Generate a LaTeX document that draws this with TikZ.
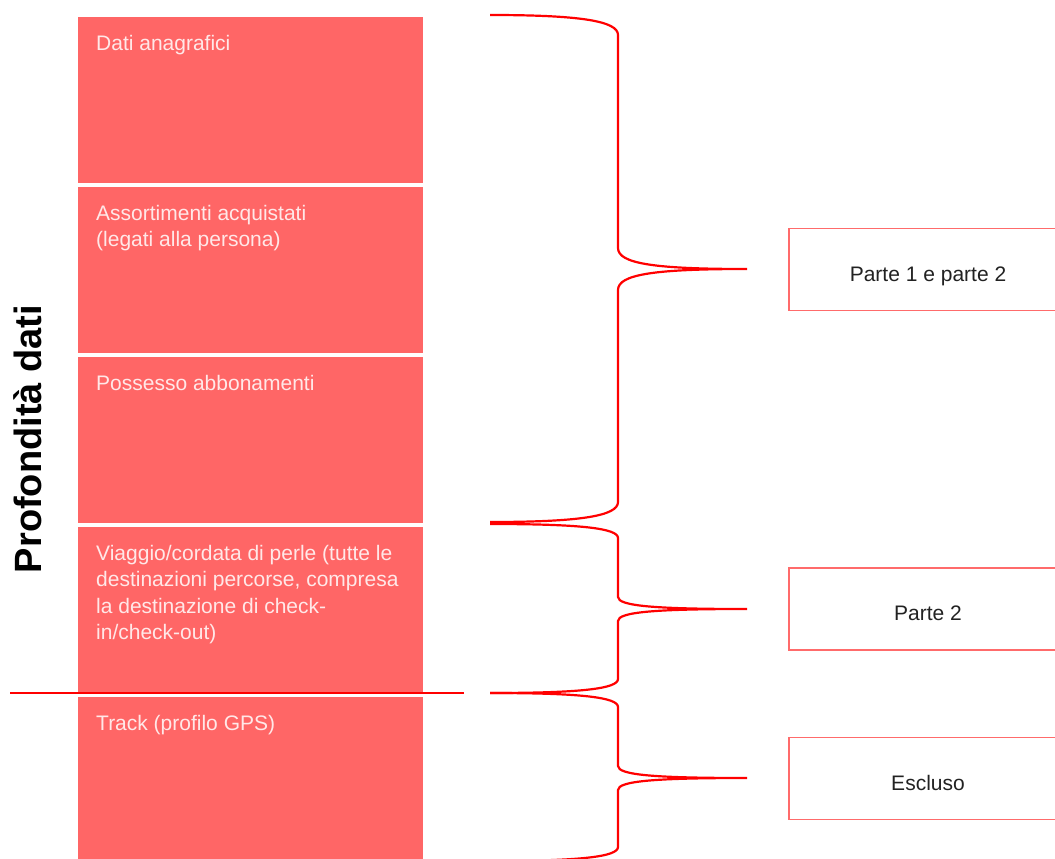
\documentclass[tikz,border=0pt]{standalone}
\usepackage{fontspec}
\setmainfont{Liberation Sans}
\definecolor{blockred}{HTML}{FF6666}
\definecolor{blocktext}{HTML}{FFE8E8}
\definecolor{boxline}{HTML}{FF6B6B}
\definecolor{boxtext}{HTML}{222222}
\definecolor{bracered}{HTML}{FF0000}
\tikzset{
  layer/.style={fill=blockred, draw=none},
  layertext/.style={anchor=north west, inner sep=0pt, align=left,
    text=blocktext, font=\fontsize{21}{26.3}\selectfont},
  verdict/.style={draw=boxline, line width=1.6pt, fill=white,
    minimum width=278pt, minimum height=82pt, inner sep=0pt,
    text height=23pt, text depth=0pt,
    text=boxtext, font=\fontsize{21}{25}\selectfont},
  bracestyle/.style={draw=bracered, line width=2.2pt},
  cutline/.style={draw=bracered, line width=2pt}
}
% curly brace: top y, tip y, bottom y, end curl, tip curl
\newcommand\drawbrace[5]{%
  \draw[bracestyle] (490,#1) .. controls (580,#1) and (618,{#1+0.3*#4}) .. (618,{#1+#4})
    -- (618,{#2-#5}) .. controls (618,{#2-0.25*#5}) and (655,#2) .. (747,#2)
    .. controls (655,#2) and (618,{#2+0.25*#5}) .. (618,{#2+#5})
    -- (618,{#3-#4}) .. controls (618,{#3-0.3*#4}) and (580,#3) .. (490,#3);}
\begin{document}
\begin{tikzpicture}[x=1pt,y=-1pt]
\clip (0,0) rectangle (1055,859);
\fill[white] (0,0) rectangle (1055,859);

% data layers
\path[layer] (78,17)  rectangle (423,183);
\path[layer] (78,187) rectangle (423,353);
\path[layer] (78,357) rectangle (423,523);
\path[layer] (78,527) rectangle (423,693);
\path[layer] (78,697) rectangle (423,870);

\node[layertext] (l1) at (96,35)  {Dati anagrafici};
\node[layertext] (l2) at (96,205) {Assortimenti acquistati\\(legati alla persona)};
\node[layertext] (l3) at (96,375) {Possesso abbonamenti};
\node[layertext] (l4) at (96,545) {Viaggio/cordata di perle (tutte le\\destinazioni percorse, compresa\\la destinazione di check-\\in/check-out)};
\node[layertext] (l5) at (96,715) {Track (profilo GPS)};

% axis title
\node[rotate=90, font=\bfseries\fontsize{38}{42}\selectfont, inner sep=0pt] (title) at (28,439) {Profondità dati};

% cut between included and excluded data
\coordinate (cutL) at (10,693);
\coordinate (cutR) at (464,693);
\draw[cutline] (cutL) -- (cutR);

% braces
\drawbrace{15}{269}{522}{20}{21}
\drawbrace{524}{609}{693}{14}{12}
\drawbrace{693}{778}{861}{14}{12}

% verdict boxes
\node[verdict] (v1) at (928,269.5) {Parte 1 e parte 2};
\node[verdict] (v2) at (928,609)   {Parte 2};
\node[verdict] (v3) at (928,778.5) {Escluso};
\end{tikzpicture}
\end{document}
